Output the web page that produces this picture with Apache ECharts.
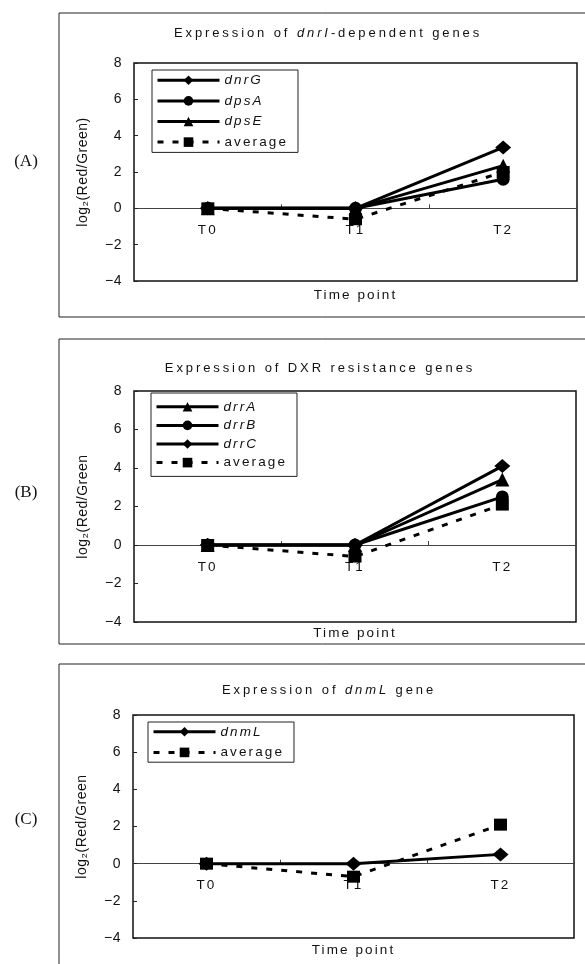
<!DOCTYPE html>
<html><head><meta charset="utf-8">
<script src="https://cdn.jsdelivr.net/npm/echarts@6/dist/echarts.min.js"></script>
<style>html,body{margin:0;padding:0;background:#fff}#c{width:585px;height:964px}</style>
</head><body><div id="c"></div>
<script>
// ---------- data ----------
const categories = ['T0', 'T1', 'T2'];
// Panel A: dnrI-dependent genes
const dnrG = [0, 0, 3.35];
const dpsA = [0, 0, 1.6];
const dpsE = [0, 0, 2.35];
const avgA = [0, -0.6, 2.0];
// Panel B: DXR resistance genes
const drrA = [0, 0, 3.4];
const drrB = [0, 0, 2.5];
const drrC = [0, 0, 4.1];
const avgB = [0, -0.6, 2.1];
// Panel C: dnmL gene
const dnmL = [0, 0, 0.5];
const avgC = [0, -0.7, 2.1];
// value axis
const yMin = -4, yMax = 8, yStep = 2;

// ---------- wide letter spacing (as in the scanned figure) ----------
const SPACING = { '13': 2.9, '13.5': 2.1, '14': 0.5 };
(function () {
  const proto = CanvasRenderingContext2D.prototype;
  const d = Object.getOwnPropertyDescriptor(proto, 'font');
  if (!d || !('letterSpacing' in proto)) return;
  Object.defineProperty(proto, 'font', {
    configurable: true, enumerable: d.enumerable,
    get() { return d.get.call(this); },
    set(v) {
      d.set.call(this, v);
      const m = /(\d+(?:\.\d+)?)px/.exec(String(v));
      const s = m && SPACING[m[1]];
      this.letterSpacing = (s || 0) + 'px';
    }
  });
})();

const F = 'Liberation Sans';
const grids = [
  { left: 134, top: 63, width: 443, height: 218 },
  { left: 134, top: 391, width: 442, height: 231 },
  { left: 133, top: 715, width: 441, height: 223 }
];
const yNames = ['log₂(Red/Green)', 'log₂(Red/Green', 'log₂(Red/Green'];

function mk(name, data, symbol, size, dashed, gi) {
  return {
    type: 'line', name, data, xAxisIndex: gi, yAxisIndex: gi,
    symbol, symbolSize: size, showSymbol: true, animation: false,
    lineStyle: { color: '#000', width: 3, type: dashed ? [6, 9] : 'solid' },
    itemStyle: { color: '#000' }
  };
}

const series = [
  mk('dnrG', dnrG, 'diamond', [16, 14], false, 0),
  mk('dpsA', dpsA, 'circle', 13, false, 0),
  mk('dpsE', dpsE, 'triangle', [14, 14], false, 0),
  mk('average', avgA, 'rect', [13, 12], true, 0),
  mk('drrA', drrA, 'triangle', [14, 14], false, 1),
  mk('drrB', drrB, 'circle', 13, false, 1),
  mk('drrC', drrC, 'diamond', [16, 14], false, 1),
  mk('average', avgB, 'rect', [13, 12], true, 1),
  mk('dnmL', dnmL, 'diamond', [16, 14], false, 2),
  mk('average', avgC, 'rect', [13, 12], true, 2)
];

function legend(names, left, top, gap, pad) {
  return {
    orient: 'vertical', left, top, itemWidth: 62, itemHeight: 12, itemGap: gap,
    padding: [pad, 10, pad, 4], borderColor: '#222', borderWidth: 1,
    selectedMode: false,
    lineStyle: { width: 3 },
    textStyle: { fontSize: 13.5, fontFamily: F, color: '#111', lineHeight: 14 },
    data: names.map(n => n === 'average' ? n : { name: n, textStyle: { fontStyle: 'italic' } })
  };
}

const titleRich = {
  n: { fontSize: 13, fontFamily: F, fill: '#111' },
  i: { fontSize: 13, fontFamily: F, fontStyle: 'italic', fill: '#111' }
};
function txt(text, x, y, size, family, rich) {
  return {
    type: 'text', x, y, silent: true, z: 10,
    style: { text, fontSize: size, fontFamily: family, fill: '#111',
      textAlign: 'center', textVerticalAlign: 'middle', rich }
  };
}
function box(y, h) {
  return { type: 'rect', silent: true, z: -1, shape: { x: 59, y, width: 560, height: h },
    style: { fill: 'none', stroke: '#222', lineWidth: 1 } };
}

const option = {
  backgroundColor: '#fff',
  animation: false,
  grid: grids.map(g => Object.assign({ show: true, borderColor: '#111', borderWidth: 1.5,
    backgroundColor: 'transparent', containLabel: false }, g)),
  xAxis: grids.map((g, i) => ({
    gridIndex: i, type: 'category', data: categories, boundaryGap: true,
    position: 'bottom',
    // place the category axis on the y = 0 level (Excel style crossing)
    offset: -g.height * (0 - yMin) / (yMax - yMin),
    axisLine: { onZero: false, lineStyle: { color: '#444', width: 1 } },
    axisTick: { show: true, inside: true, length: 4, lineStyle: { color: '#444' } },
    axisLabel: { margin: 14, fontSize: 13.5, fontFamily: F, color: '#111' },
    splitLine: { show: false }
  })),
  yAxis: grids.map((g, i) => ({
    gridIndex: i, type: 'value', min: yMin, max: yMax, interval: yStep,
    axisLine: { show: false },
    axisTick: { show: true, inside: true, length: 4, lineStyle: { color: '#222' } },
    splitLine: { show: false },
    axisLabel: { margin: 12, fontSize: 14, fontFamily: F, color: '#111',
      formatter: v => String(v).replace('-', '−') },
    name: yNames[i], nameLocation: 'middle', nameGap: 44,
    nameTextStyle: { fontSize: 14, fontFamily: F, color: '#111' }
  })),
  legend: [
    legend(['dnrG', 'dpsA', 'dpsE', 'average'], 152, 70, 4.5, 2.25),
    legend(['drrA', 'drrB', 'drrC', 'average'], 151, 393, 2.5, 5.75),
    legend(['dnmL', 'average'], 148, 722, 4.5, 1.75)
  ],
  series,
  graphic: [
    box(13, 304), box(339, 305), box(664, 330),
    txt('{n|Expression of }{i|dnrI}{n|-dependent genes}', 328, 33, 13, F, titleRich),
    txt('Expression of DXR resistance genes', 320, 368, 13, F),
    txt('{n|Expression of }{i|dnmL}{n| gene}', 329, 690, 13, F, titleRich),
    txt('Time point', 355.5, 295, 13.5, F),
    txt('Time point', 355, 633, 13.5, F),
    txt('Time point', 353.5, 950, 13.5, F),
    txt('(A)', 26, 162, 17, 'Liberation Serif'),
    txt('(B)', 26, 493, 17, 'Liberation Serif'),
    txt('(C)', 26, 820, 17, 'Liberation Serif')
  ]
};

const chart = echarts.init(document.getElementById('c'), null, { renderer: 'canvas' });
chart.setOption(option);
</script>
</body></html>
